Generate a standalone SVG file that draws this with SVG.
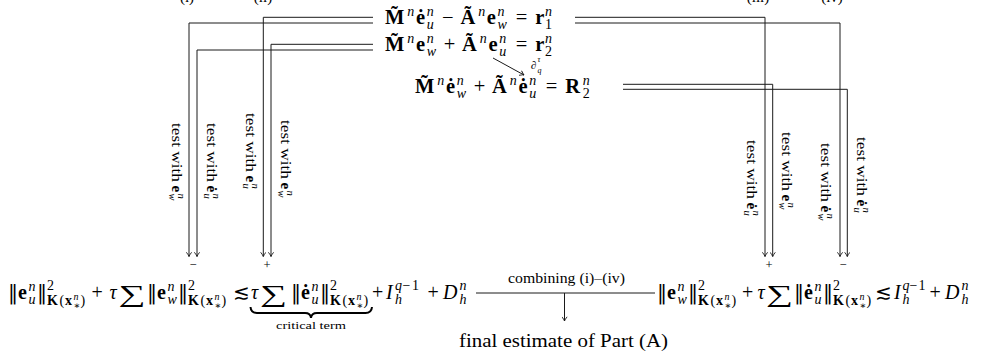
<svg xmlns="http://www.w3.org/2000/svg" width="988" height="364" viewBox="0 0 988 364">
<defs>
<style>
.t{font-family:"Liberation Serif","DejaVu Serif",serif;fill:#000}
.m{font-size:20.5px}
.q{font-size:20px}
.s{font-size:14px}
.ss{font-size:10px}
.b{font-weight:700}
.i{font-style:italic}
.sym{font-family:"DejaVu Serif",serif}
.lb{font-size:15px}
.lbs{font-size:10.5px}
.pm{font-size:12.5px}
.conn path{fill:none;stroke:#1a1a1a;stroke-width:1}
</style>
<marker id="ah" viewBox="-5 -3 5.5 6" refX="0" refY="0" markerWidth="5.5" markerHeight="6" markerUnits="userSpaceOnUse" orient="auto">
<path d="M-4.2,-2.6 Q-1.6,-0.6 0,0 Q-1.6,0.6 -4.2,2.6" fill="none" stroke="#1a1a1a" stroke-width="0.9"/>
</marker>
</defs>
<rect width="988" height="364" fill="#fff"/>

<g id="step-labels" class="t lb" text-anchor="middle">
<text x="187" y="2">(i)</text>
<text x="263" y="2">(ii)</text>
<text x="758" y="2">(iii)</text>
<text x="832" y="2">(iv)</text>
</g>

<g id="eq1">
<text class="t m" y="24"><tspan class="b" x="385">M&#x303;</tspan><tspan class="i s" x="407.3" y="15.5">n</tspan><tspan class="b" x="415.9" y="24">ė</tspan><tspan class="i s" x="426.7" y="29">u</tspan><tspan class="i s" x="426.7" y="15.5">n</tspan><tspan x="442.1" y="24">−</tspan><tspan class="b" x="460.4">Ã</tspan><tspan class="i s" x="478.2" y="15.5">n</tspan><tspan class="b" x="486.8" y="24">e</tspan><tspan class="i s" x="497.6" y="29">w</tspan><tspan class="i s" x="497.6" y="15.5">n</tspan><tspan x="515.8" y="24">=</tspan><tspan class="b" x="535.3">r</tspan><tspan class="s" x="545" y="29">1</tspan><tspan class="i s" x="545" y="15.5">n</tspan></text>
</g>

<g id="eq2">
<text class="t m" y="51"><tspan class="b" x="385">M&#x303;</tspan><tspan class="i s" x="407.3" y="42.5">n</tspan><tspan class="b" x="415.9" y="51">e</tspan><tspan class="i s" x="426.7" y="56">w</tspan><tspan class="i s" x="426.7" y="42.5">n</tspan><tspan x="443.7" y="51">+</tspan><tspan class="b" x="462">Ã</tspan><tspan class="i s" x="479.8" y="42.5">n</tspan><tspan class="b" x="488.4" y="51">e</tspan><tspan class="i s" x="499.2" y="56">u</tspan><tspan class="i s" x="499.2" y="42.5">n</tspan><tspan x="515.7" y="51">=</tspan><tspan class="b" x="535.2">r</tspan><tspan class="s" x="544.9" y="56">2</tspan><tspan class="i s" x="544.9" y="42.5">n</tspan></text>
</g>

<g id="eq3">
<text class="t m" y="93"><tspan class="b" x="415">M&#x303;</tspan><tspan class="i s" x="437.3" y="84.5">n</tspan><tspan class="b" x="445.9" y="93">ė</tspan><tspan class="i s" x="456.7" y="98">w</tspan><tspan class="i s" x="456.7" y="84.5">n</tspan><tspan x="473.7" y="93">+</tspan><tspan class="b" x="492">Ã</tspan><tspan class="i s" x="509.8" y="84.5">n</tspan><tspan class="b" x="518.4" y="93">ė</tspan><tspan class="i s" x="529.2" y="98">u</tspan><tspan class="i s" x="529.2" y="84.5">n</tspan><tspan x="545.7" y="93">=</tspan><tspan class="b" x="565.2">R</tspan><tspan class="s" x="582.8" y="98">2</tspan><tspan class="i s" x="582.8" y="84.5">n</tspan></text>
</g>

<g id="bottom-left">
<text class="t q" y="299"><tspan class="sym" x="8">‖</tspan><tspan class="b" x="18">e</tspan><tspan class="i s" x="28.5" y="304">u</tspan><tspan class="i s" x="28.5" y="290.5">n</tspan><tspan class="sym" x="37" y="299">‖</tspan><tspan class="s" x="47" y="290">2</tspan><tspan class="b s" x="47" y="305">K</tspan><tspan class="s" x="59.6">(</tspan><tspan class="b s" x="65">x</tspan><tspan class="i ss" x="73.6" y="300">n</tspan><tspan class="sym ss" x="73.6" y="309">∗</tspan><tspan class="s" x="80.6" y="305">)</tspan><tspan x="91.4" y="299">+</tspan><tspan class="i" x="109.4">τ</tspan><tspan class="sym" x="147">‖</tspan><tspan class="b" x="157">e</tspan><tspan class="i s" x="167.5" y="304">w</tspan><tspan class="i s" x="167.5" y="290.5">n</tspan><tspan class="sym" x="178" y="299">‖</tspan><tspan class="s" x="188" y="290">2</tspan><tspan class="b s" x="188" y="305">K</tspan><tspan class="s" x="200.6">(</tspan><tspan class="b s" x="206">x</tspan><tspan class="i ss" x="214.6" y="300">n</tspan><tspan class="sym ss" x="214.6" y="309">∗</tspan><tspan class="s" x="221.6" y="305">)</tspan><tspan class="sym" x="233" y="299">≲</tspan><tspan class="i" x="251">τ</tspan><tspan class="sym" x="291">‖</tspan><tspan class="b" x="301">ė</tspan><tspan class="i s" x="311.5" y="304">u</tspan><tspan class="i s" x="311.5" y="290.5">n</tspan><tspan class="sym" x="320" y="299">‖</tspan><tspan class="s" x="330" y="290">2</tspan><tspan class="b s" x="330" y="305">K</tspan><tspan class="s" x="342.6">(</tspan><tspan class="b s" x="348">x</tspan><tspan class="i ss" x="356.6" y="300">n</tspan><tspan class="sym ss" x="356.6" y="309">∗</tspan><tspan class="s" x="363.6" y="305">)</tspan><tspan x="372" y="299">+</tspan><tspan class="i" x="386">I</tspan><tspan class="i s" x="395" y="290">q</tspan><tspan class="s" x="402.5">−</tspan><tspan class="s" x="412">1</tspan><tspan class="i s" x="395" y="304">h</tspan><tspan x="427.4" y="299">+</tspan><tspan class="i" x="443">D</tspan><tspan class="i s" x="459.6" y="290">n</tspan><tspan class="i s" x="459.6" y="304">h</tspan></text>
<text class="t" x="118.5" y="302" font-size="24" textLength="27" lengthAdjust="spacingAndGlyphs">∑</text>
<text class="t" x="260" y="302" font-size="24" textLength="27" lengthAdjust="spacingAndGlyphs">∑</text>
<path d="M250.5,307 Q251,313 257,313 H305 Q310.5,313 311,318 Q311.5,313 317,313 H365.5 Q371.5,313 372,307" fill="none" stroke="#000" stroke-width="2"/>
<text class="t" x="276" y="329" font-size="11" textLength="70" lengthAdjust="spacingAndGlyphs">critical term</text>
</g>

<g id="bottom-right">
<text class="t q" y="299"><tspan class="sym" x="657">‖</tspan><tspan class="b" x="667">e</tspan><tspan class="i s" x="677.5" y="304">w</tspan><tspan class="i s" x="677.5" y="290.5">n</tspan><tspan class="sym" x="688" y="299">‖</tspan><tspan class="s" x="698" y="290">2</tspan><tspan class="b s" x="698" y="305">K</tspan><tspan class="s" x="710.6">(</tspan><tspan class="b s" x="716">x</tspan><tspan class="i ss" x="724.6" y="300">n</tspan><tspan class="sym ss" x="724.6" y="309">∗</tspan><tspan class="s" x="731.6" y="305">)</tspan><tspan x="742" y="299">+</tspan><tspan class="i" x="757.5">τ</tspan><tspan class="sym" x="794">‖</tspan><tspan class="b" x="804">ė</tspan><tspan class="i s" x="814.5" y="304">u</tspan><tspan class="i s" x="814.5" y="290.5">n</tspan><tspan class="sym" x="823" y="299">‖</tspan><tspan class="s" x="833" y="290">2</tspan><tspan class="b s" x="833" y="305">K</tspan><tspan class="s" x="845.6">(</tspan><tspan class="b s" x="851">x</tspan><tspan class="i ss" x="859.6" y="300">n</tspan><tspan class="sym ss" x="859.6" y="309">∗</tspan><tspan class="s" x="866.6" y="305">)</tspan><tspan class="sym" x="874.5" y="299">≲</tspan><tspan class="i" x="894">I</tspan><tspan class="i s" x="902.5" y="290">q</tspan><tspan class="s" x="909.5">−</tspan><tspan class="s" x="918.5">1</tspan><tspan class="i s" x="902.5" y="304">h</tspan><tspan x="929.5" y="299">+</tspan><tspan class="i" x="945">D</tspan><tspan class="i s" x="961.6" y="290">n</tspan><tspan class="i s" x="961.6" y="304">h</tspan></text>
<text class="t" x="766" y="302" font-size="24" textLength="27" lengthAdjust="spacingAndGlyphs">∑</text>
</g>

<g id="final">
<text class="t" x="459" y="347" font-size="19" textLength="209" lengthAdjust="spacingAndGlyphs">final estimate of Part (A)</text>
</g>

<g id="connectors" class="conn">
<path d="M373,17.3H263.3V256.5" marker-end="url(#ah)"/>
<path d="M373,23H189V256.5" marker-end="url(#ah)"/>
<path d="M373,44.3H271V256.5" marker-end="url(#ah)"/>
<path d="M373,50H197V256.5" marker-end="url(#ah)"/>
<path d="M575,17.3H765V256.5" marker-end="url(#ah)"/>
<path d="M575,23H840V256.5" marker-end="url(#ah)"/>
<path d="M623,84.3H772.7V256.5" marker-end="url(#ah)"/>
<path d="M623,89.3H847.3V256.5" marker-end="url(#ah)"/>
<path d="M493,58L524,75" marker-end="url(#ah)"/>
<path d="M476,293H655"/>
<path d="M564.5,293V321" marker-end="url(#ah)"/>
</g>

<g id="connector-labels">
<text class="t" x="531" y="69" font-size="11" font-style="italic">∂</text>
<text class="t" x="537.5" y="62" font-size="8" font-style="italic">τ</text>
<text class="t" x="537.5" y="72.5" font-size="8" font-style="italic">q</text>
<text class="t" x="508" y="283" font-size="14.5" textLength="117" lengthAdjust="spacingAndGlyphs">combining (i)–(iv)</text>
<g class="t pm" text-anchor="middle">
<text x="193" y="268.5">−</text>
<text x="267" y="268.5">+</text>
<text x="769" y="268.5">+</text>
<text x="843" y="268.5">−</text>
</g>
<g transform="translate(172,123) rotate(90)"><text class="t lb" x="0" y="0" textLength="59" lengthAdjust="spacingAndGlyphs">test with</text><text class="t lb b" x="62.5" y="0">e</text><text class="t lbs i" x="70.5" y="3.5">w</text><text class="t lbs i" x="70.5" y="-5.5">n</text></g>
<g transform="translate(207,123) rotate(90)"><text class="t lb" x="0" y="0" textLength="59" lengthAdjust="spacingAndGlyphs">test with</text><text class="t lb b" x="62.5" y="0">ė</text><text class="t lbs i" x="70.5" y="3.5">u</text><text class="t lbs i" x="70.5" y="-5.5">n</text></g>
<g transform="translate(246,113) rotate(90)"><text class="t lb" x="0" y="0" textLength="59" lengthAdjust="spacingAndGlyphs">test with</text><text class="t lb b" x="62.5" y="0">e</text><text class="t lbs i" x="70.5" y="3.5">u</text><text class="t lbs i" x="70.5" y="-5.5">n</text></g>
<g transform="translate(281,120) rotate(90)"><text class="t lb" x="0" y="0" textLength="59" lengthAdjust="spacingAndGlyphs">test with</text><text class="t lb b" x="62.5" y="0">e</text><text class="t lbs i" x="70.5" y="3.5">w</text><text class="t lbs i" x="70.5" y="-5.5">n</text></g>
<g transform="translate(747,140) rotate(90)"><text class="t lb" x="0" y="0" textLength="59" lengthAdjust="spacingAndGlyphs">test with</text><text class="t lb b" x="62.5" y="0">ė</text><text class="t lbs i" x="70.5" y="3.5">u</text><text class="t lbs i" x="70.5" y="-5.5">n</text></g>
<g transform="translate(782,132) rotate(90)"><text class="t lb" x="0" y="0" textLength="59" lengthAdjust="spacingAndGlyphs">test with</text><text class="t lb b" x="62.5" y="0">e</text><text class="t lbs i" x="70.5" y="3.5">w</text><text class="t lbs i" x="70.5" y="-5.5">n</text></g>
<g transform="translate(821,143) rotate(90)"><text class="t lb" x="0" y="0" textLength="59" lengthAdjust="spacingAndGlyphs">test with</text><text class="t lb b" x="62.5" y="0">ė</text><text class="t lbs i" x="70.5" y="3.5">w</text><text class="t lbs i" x="70.5" y="-5.5">n</text></g>
<g transform="translate(857,137) rotate(90)"><text class="t lb" x="0" y="0" textLength="59" lengthAdjust="spacingAndGlyphs">test with</text><text class="t lb b" x="62.5" y="0">ė</text><text class="t lbs i" x="70.5" y="3.5">u</text><text class="t lbs i" x="70.5" y="-5.5">n</text></g>
</g>
</svg>
